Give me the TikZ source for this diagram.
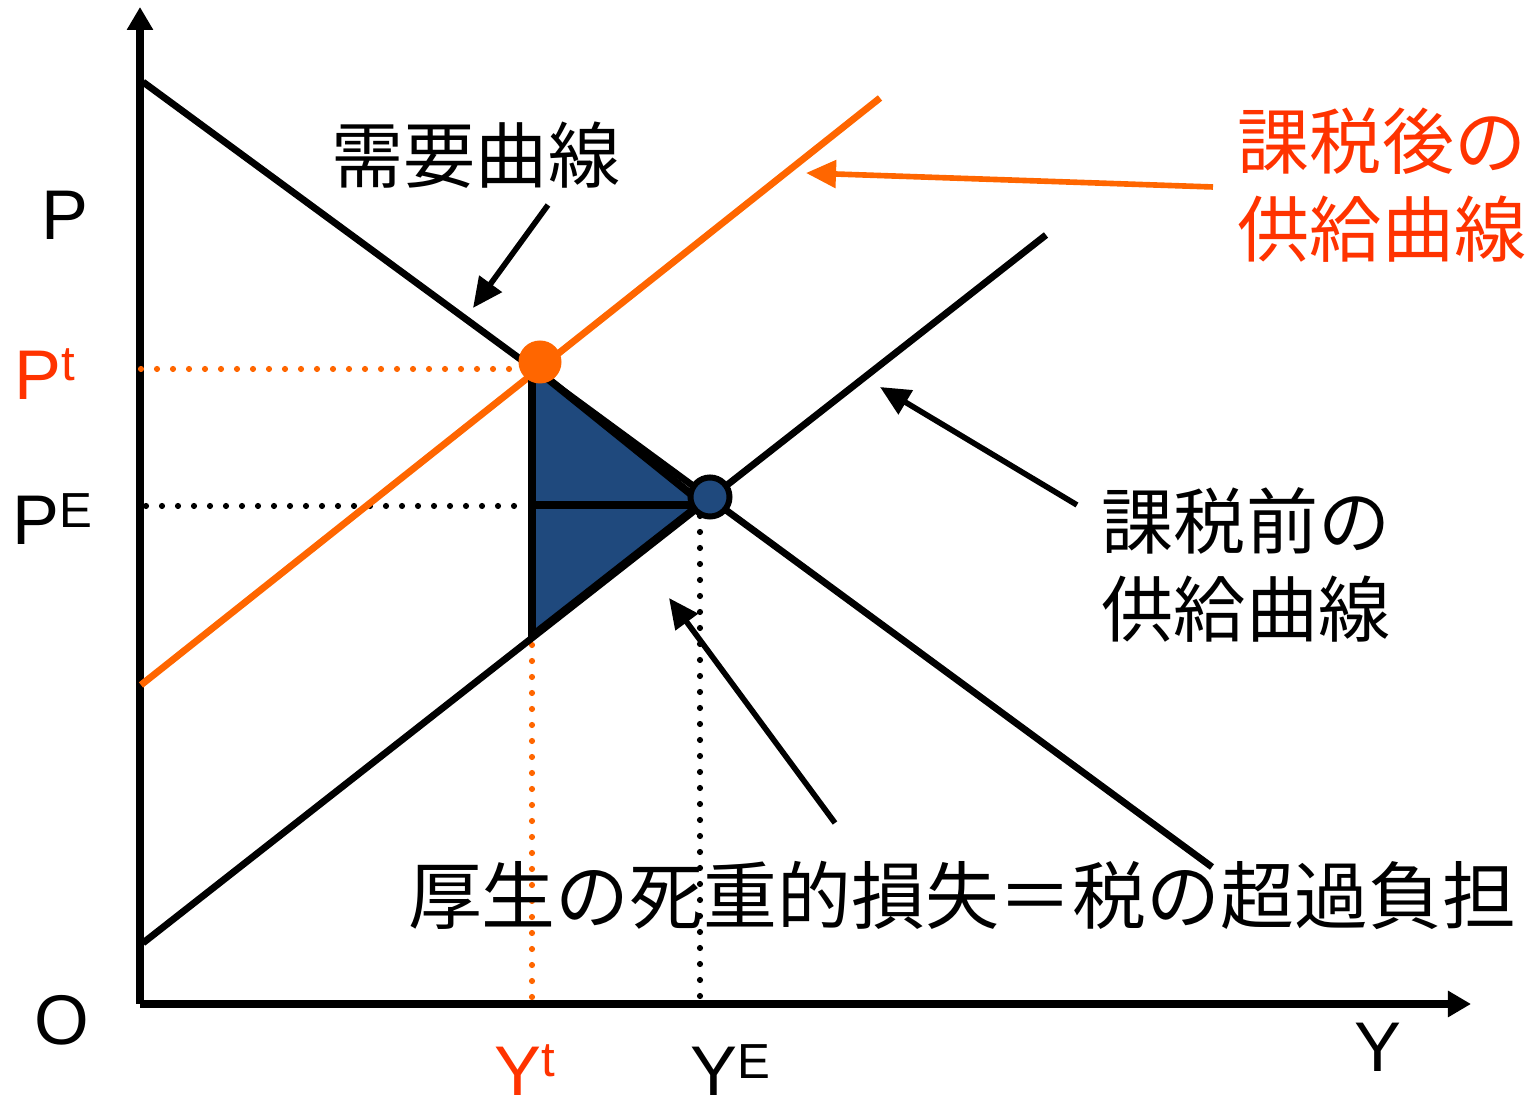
\documentclass[tikz,border=0pt]{standalone}
\usepackage{fontspec}
\setmainfont{Liberation Sans}
\newfontfamily\jpfont{Noto Sans CJK JP}
\usetikzlibrary{arrows.meta}
\definecolor{orline}{HTML}{FF6600}
\definecolor{ortext}{HTML}{FF3300}
\definecolor{dwblue}{HTML}{1F497D}
\begin{document}
\begin{tikzpicture}[x=0.01cm,y=-0.01cm,
  axisline/.style={line width=2.3pt,-{Triangle[length=0.23cm,width=0.25cm]}},
  curve/.style={line width=1.95pt},
  dotline/.style={line width=1.75pt,line cap=round,dash pattern=on 0pt off 4.55pt},
  callout/.style={line width=1.6pt,-{Triangle[length=0.3cm,width=0.27cm]}},
  jplabel/.style={font=\jpfont\fontsize{20.5}{25}\selectfont,inner sep=0pt,align=center},
  latlabel/.style={font=\fontsize{20}{24}\selectfont,inner sep=0pt}]
\useasboundingbox (0,0) rectangle (1538,1107);
% axes
\coordinate (origin) at (140,1004);
\coordinate (ytop) at (140,7);
\coordinate (xend) at (1471,1004);
\draw[axisline] (origin) -- (ytop);
\draw[axisline] (origin) -- (xend);
% dotted guides
\coordinate (pt0) at (141,369); \coordinate (pt1) at (524,369);
\coordinate (pe0) at (146,506); \coordinate (pe1) at (524,506);
\coordinate (yt0) at (532,645); \coordinate (yt1) at (532,1003);
\coordinate (ye0) at (700,516); \coordinate (ye1) at (700,998);
\draw[dotline,orline] (pt0) -- (pt1);
\draw[dotline,black] (pe0) -- (pe1);
\draw[dotline,orline] (yt0) -- (yt1);
\draw[dotline,black] (ye0) -- (ye1);
% curves
\coordinate (d0) at (143,82); \coordinate (d1) at (1212,867);
\coordinate (s0a) at (143,943); \coordinate (s0b) at (1046,235);
\coordinate (s1a) at (141,685); \coordinate (s1b) at (880,98);
\draw[curve] (d0) -- (d1);
\draw[curve] (s0a) -- (s0b);
\draw[curve,orline] (s1a) -- (s1b);
% deadweight triangle
\coordinate (ta) at (532,366); \coordinate (tb) at (532,636); \coordinate (tc) at (702,503);
\draw[line width=2.2pt,fill=dwblue,line join=miter] (ta) -- (tc) -- (tb) -- cycle;
\coordinate (hm0) at (532,505); \coordinate (hm1) at (700,505);
\draw[line width=2.1pt] (hm0) -- (hm1);
% points
\node[circle,fill=orline,minimum size=0.43cm,inner sep=0pt] (tdot) at (540,362) {};
\node[circle,draw=black,line width=1.7pt,fill=dwblue,minimum size=0.39cm,inner sep=0pt] (edot) at (710,497) {};
% axis labels
\node[latlabel] (lP) at (65,215) {P};
\node[latlabel,text=ortext,anchor=base west] (lPt) at (14,400) {P\raisebox{5.5pt}{\fontsize{14}{14}\selectfont t}};
\node[latlabel,anchor=base west] (lPE) at (12,545) {P\raisebox{5pt}{\fontsize{14}{14}\selectfont E}};
\node[latlabel] (lO) at (62,1020) {O};
\node[latlabel] (lY) at (1378,1047) {Y};
\node[latlabel,text=ortext,anchor=base west] (lYt) at (494,1096) {Y\raisebox{5.5pt}{\fontsize{14}{14}\selectfont t}};
\node[latlabel,anchor=base west] (lYE) at (690,1096) {Y\raisebox{5pt}{\fontsize{14}{14}\selectfont E}};
% text labels
\node[jplabel] (demand) at (476,155) {需要曲線};
\node[jplabel,text=ortext] (after) at (1382,185) {課税後の\\供給曲線};
\node[jplabel] (before) at (1246,565) {課税前の\\供給曲線};
\node[jplabel,font=\jpfont\fontsize{21}{25}\selectfont] (dwl) at (962,895) {厚生の死重的損失＝税の超過負担};
% callout arrows
\coordinate (a1s) at (548,205); \coordinate (a1e) at (473,308);
\coordinate (a2s) at (1213,187); \coordinate (a2e) at (806,173);
\coordinate (a3s) at (1077,505); \coordinate (a3e) at (880,387);
\coordinate (a4s) at (835,823); \coordinate (a4e) at (669,598);
\draw[callout] (a1s) -- (a1e);
\draw[callout,orline] (a2s) -- (a2e);
\draw[callout] (a3s) -- (a3e);
\draw[callout] (a4s) -- (a4e);
\end{tikzpicture}
\end{document}
